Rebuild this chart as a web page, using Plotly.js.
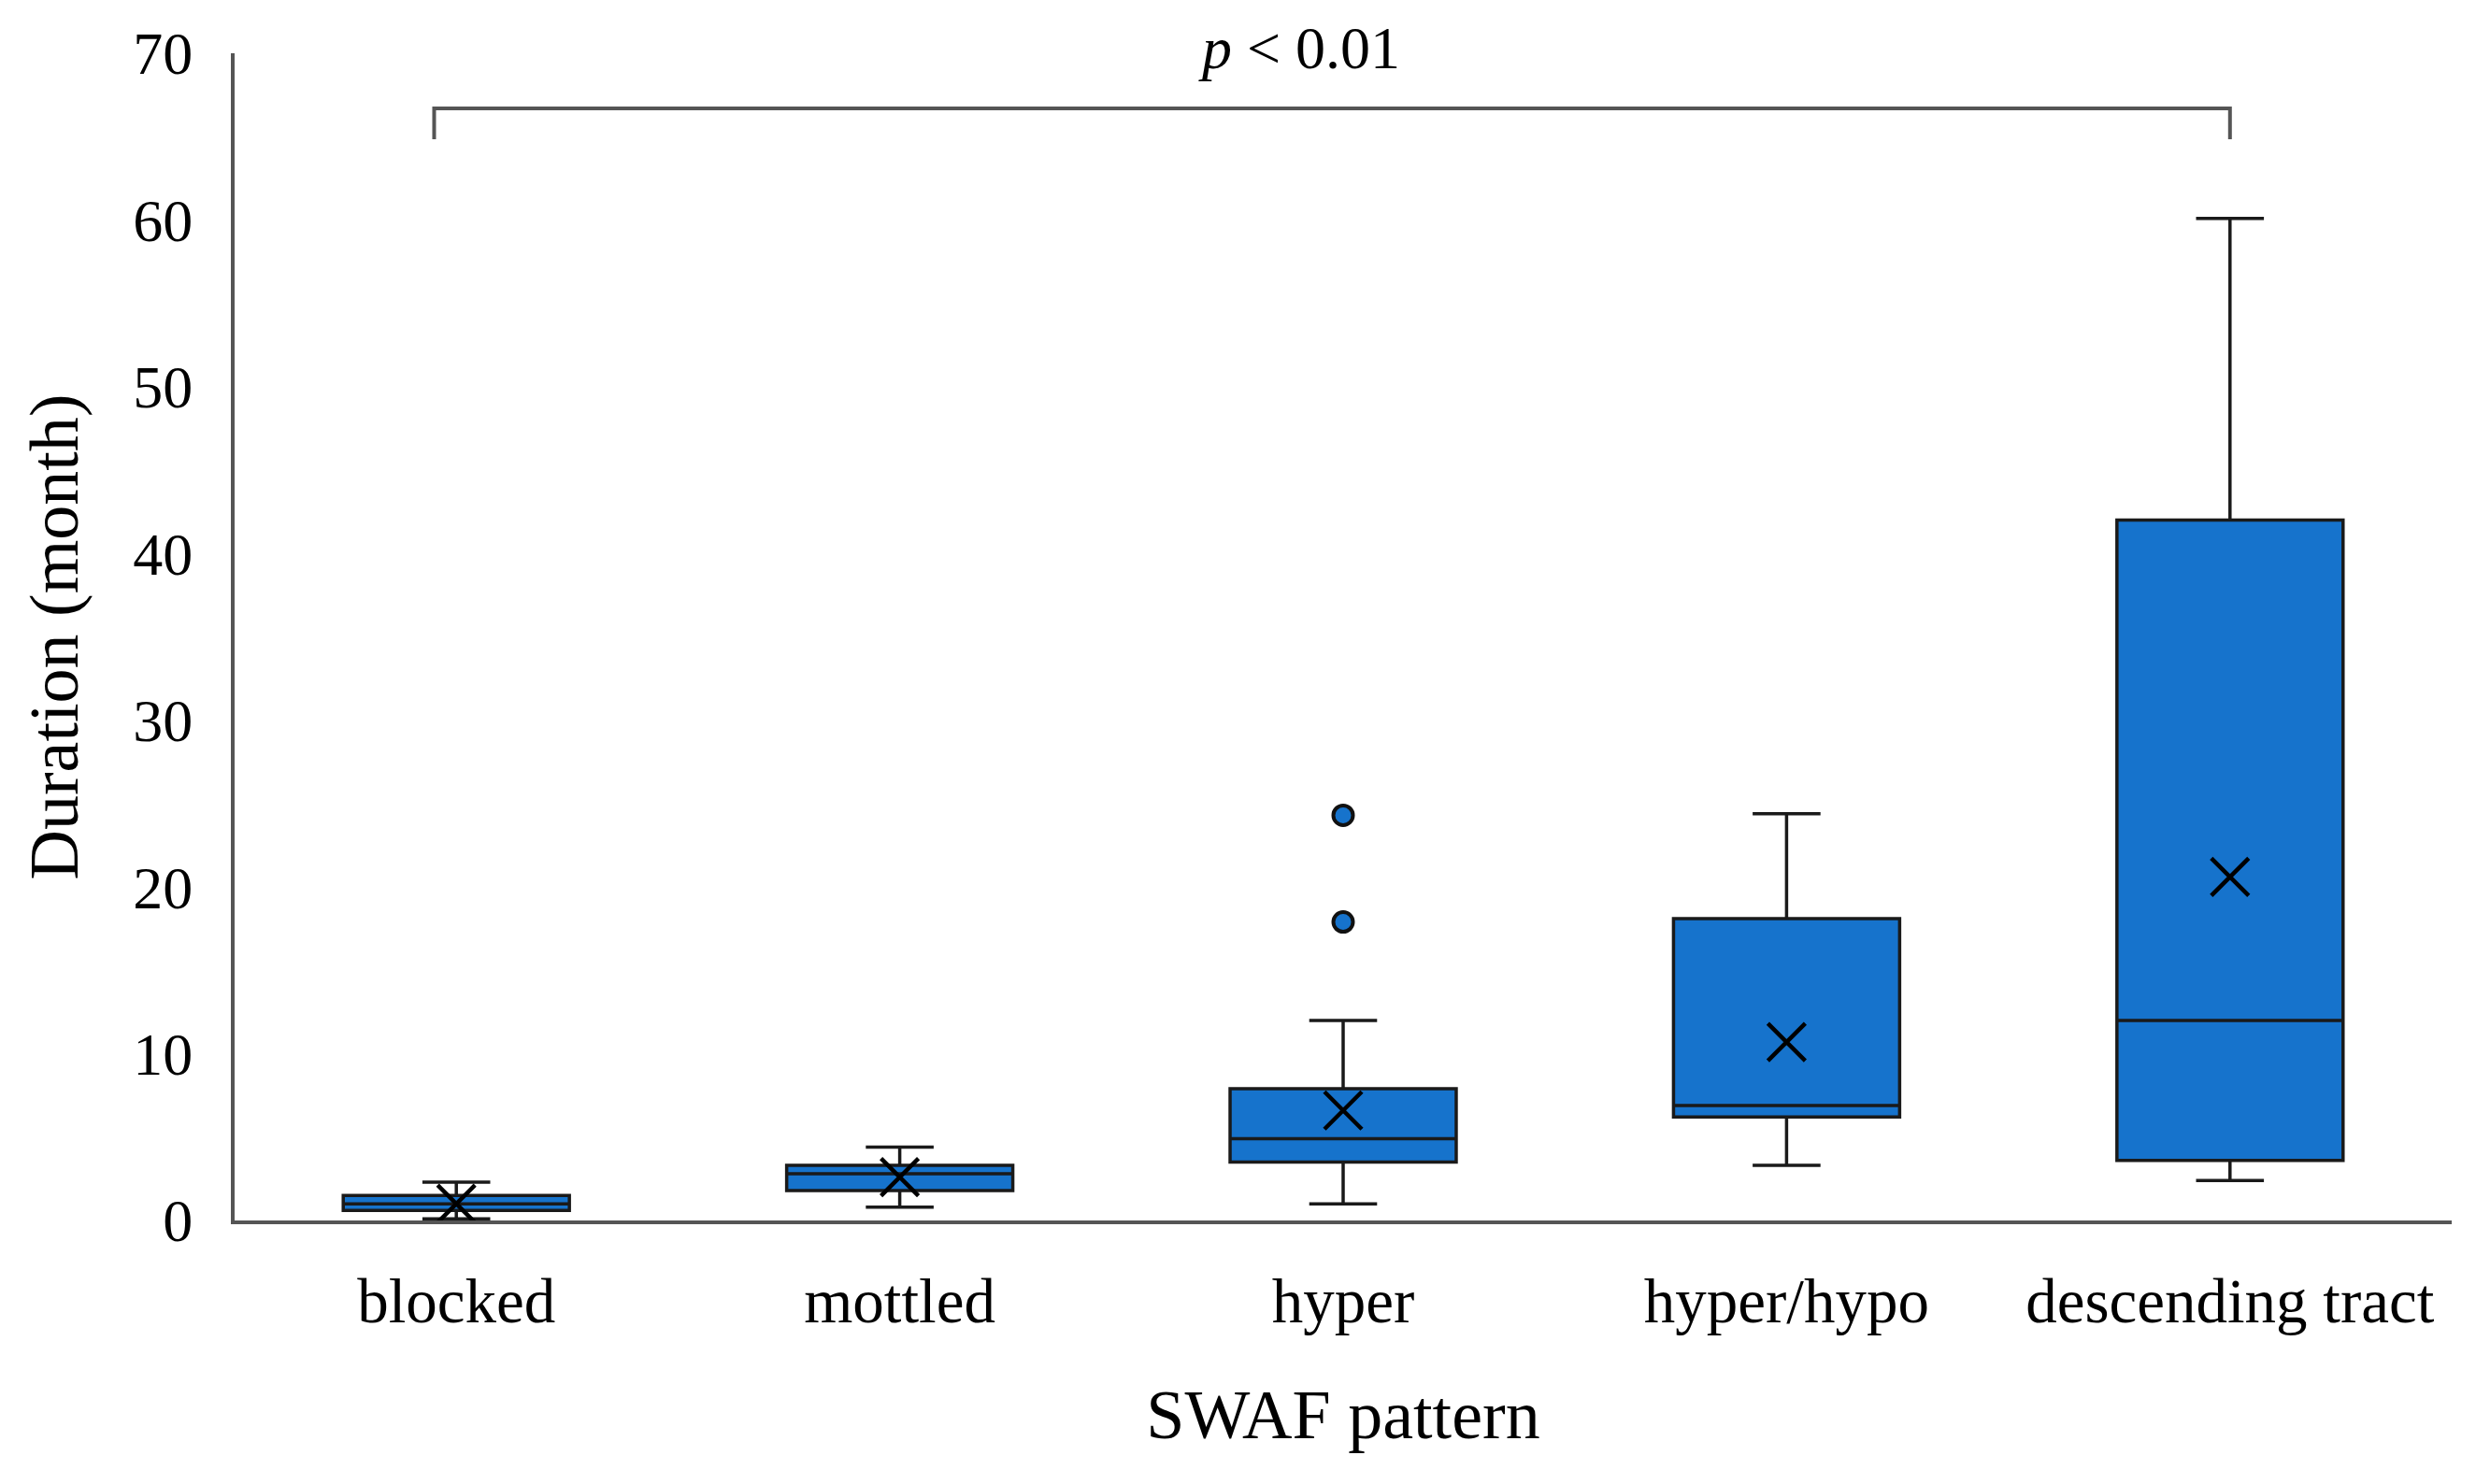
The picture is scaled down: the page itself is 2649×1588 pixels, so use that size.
<!DOCTYPE html>
<html>
<head>
<meta charset="utf-8">
<script src="https://cdn.plot.ly/plotly-3.0.1.min.js"></script>
<style>html,body{margin:0;padding:0;background:#fff;}#chart{width:2649px;height:1588px;}</style>
</head>
<body>
<div id="chart"></div>
<script>
// Data
const categories = ["blocked", "mottled", "hyper", "hyper/hypo", "descending tract"];
const lowerWhisker = [0.1, 0.8, 1.0, 3.3, 2.4];
const q1Values     = [0.6, 1.8, 3.5, 6.2, 3.6];
const medianValues = [1.0, 2.8, 4.9, 6.9, 12.0];
const q3Values     = [1.5, 3.3, 7.9, 18.1, 42.0];
const upperWhisker = [2.3, 4.4, 12.0, 24.4, 60.1];
const meanValues   = [1.0, 2.6, 6.6, 10.7, 20.6];
const outlierCats  = ["hyper", "hyper"];
const outlierVals  = [24.3, 17.9];
const yTicks = [0, 10, 20, 30, 40, 50, 60, 70];
const pText = "<i>p</i> &lt; 0.01";

const blue = "#1673CC";
const serif = "Liberation Serif, Times New Roman, serif";

const traces = [
  {
    type: "box",
    x: categories,
    q1: q1Values,
    median: medianValues,
    q3: q3Values,
    lowerfence: lowerWhisker,
    upperfence: upperWhisker,
    fillcolor: blue,
    line: {color: "#1a1a1a", width: 3.5},
    width: 0.51,
    whiskerwidth: 0.3,
    boxpoints: false,
    hoverinfo: "skip",
    showlegend: false
  },
  {
    type: "scatter",
    mode: "markers",
    x: categories,
    y: meanValues,
    marker: {symbol: "x-thin-open", size: 40, color: "#000", line: {color: "#000", width: 4.5}},
    cliponaxis: false,
    hoverinfo: "skip",
    showlegend: false
  },
  {
    type: "scatter",
    mode: "markers",
    x: outlierCats,
    y: outlierVals,
    marker: {symbol: "circle", size: 21, color: blue, line: {color: "#111", width: 4}},
    hoverinfo: "skip",
    showlegend: false
  }
];

const layout = {
  width: 2649,
  height: 1588,
  margin: {l: 251, r: 26, t: 57, b: 282, pad: 0},
  paper_bgcolor: "#fff",
  plot_bgcolor: "#fff",
  font: {family: serif, color: "#000"},
  showlegend: false,
  xaxis: {
    type: "category",
    categoryorder: "array",
    categoryarray: categories,
    range: [-0.5, 4.5],
    showgrid: false,
    zeroline: false,
    showline: true,
    linecolor: "#555",
    linewidth: 4,
    ticks: "",
    ticklabelstandoff: 25,
    tickfont: {family: serif, size: 67, color: "#000"},
    title: {text: "SWAF pattern", font: {family: serif, size: 74, color: "#000"}, standoff: 60}
  },
  yaxis: {
    range: [0, 70],
    tickvals: yTicks,
    ticktext: yTicks.map(String),
    showgrid: false,
    zeroline: false,
    showline: true,
    linecolor: "#555",
    linewidth: 4,
    ticks: "",
    ticklabelstandoff: 28,
    tickfont: {family: serif, size: 64, color: "#000"},
    title: {text: "Duration (month)", font: {family: serif, size: 74, color: "#000"}, standoff: 35}
  },
  shapes: [
    {
      type: "path",
      xref: "x", yref: "y",
      path: "M -0.05,64.84 L -0.05,66.69 L 4.0,66.69 L 4.0,64.84",
      line: {color: "#555", width: 4}
    }
  ],
  annotations: [
    {
      xref: "x", yref: "paper",
      x: 1.9, y: 1,
      xanchor: "center", yanchor: "middle",
      yshift: 6,
      text: pText,
      showarrow: false,
      font: {family: serif, size: 64, color: "#000"}
    }
  ]
};

Plotly.newPlot("chart", traces, layout, {staticPlot: true, displayModeBar: false});
</script>
</body>
</html>
